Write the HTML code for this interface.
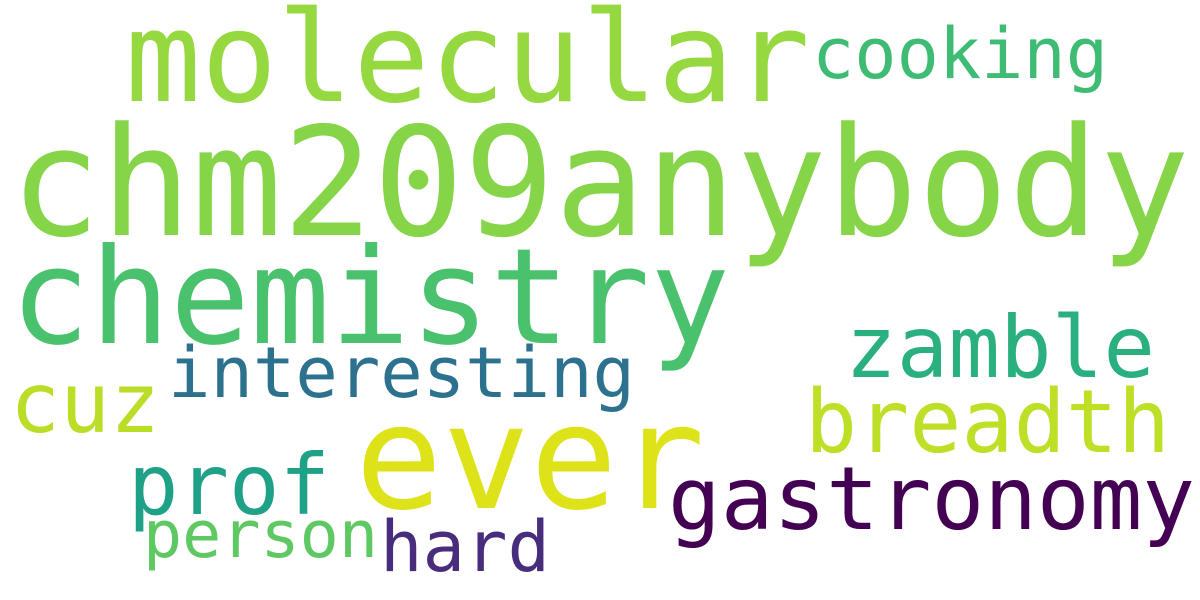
<!DOCTYPE html>
<html>
<head>
<meta charset="utf-8">
<style>
  html, body { margin: 0; padding: 0; background: #ffffff; }
  svg { display: block; }
  text { font-family: "DejaVu Sans Mono", "Liberation Mono", monospace; }
</style>
</head>
<body>
<svg width="1200" height="600" viewBox="0 0 1200 600">
  <rect width="1200" height="600" fill="#ffffff"/>
  <text x="125" y="101" font-size="126" fill="#95d840" textLength="685" lengthAdjust="spacingAndGlyphs">molecular</text>
  <text x="812" y="78" font-size="70" fill="#3fbc73" textLength="296" lengthAdjust="spacingAndGlyphs">cooking</text>
  <text x="10" y="235" font-size="151" fill="#86d549" textLength="1180" lengthAdjust="spacingAndGlyphs">chm209anybody</text>
  <text x="10" y="343" font-size="133" fill="#4ac16d" textLength="720" lengthAdjust="spacingAndGlyphs">chemistry</text>
  <text x="845" y="377" font-size="86" fill="#2ab07f" textLength="310" lengthAdjust="spacingAndGlyphs">zamble</text>
  <text x="168" y="397" font-size="70" fill="#2c728e" textLength="467" lengthAdjust="spacingAndGlyphs">interesting</text>
  <text x="10" y="432" font-size="83" fill="#bade28" textLength="150" lengthAdjust="spacingAndGlyphs">cuz</text>
  <text x="805" y="452" font-size="87" fill="#bddf26" textLength="365" lengthAdjust="spacingAndGlyphs">breadth</text>
  <text x="355" y="508" font-size="145" fill="#dde318" textLength="350" lengthAdjust="spacingAndGlyphs">ever</text>
  <text x="128" y="514" font-size="84" fill="#1fa187" textLength="202" lengthAdjust="spacingAndGlyphs">prof</text>
  <text x="668" y="529" font-size="87" fill="#440154" textLength="527" lengthAdjust="spacingAndGlyphs">gastronomy</text>
  <text x="143" y="557" font-size="65" fill="#5ec962" textLength="235" lengthAdjust="spacingAndGlyphs">person</text>
  <text x="380" y="571" font-size="70" fill="#472d7b" textLength="170" lengthAdjust="spacingAndGlyphs">hard</text>
</svg>
</body>
</html>
